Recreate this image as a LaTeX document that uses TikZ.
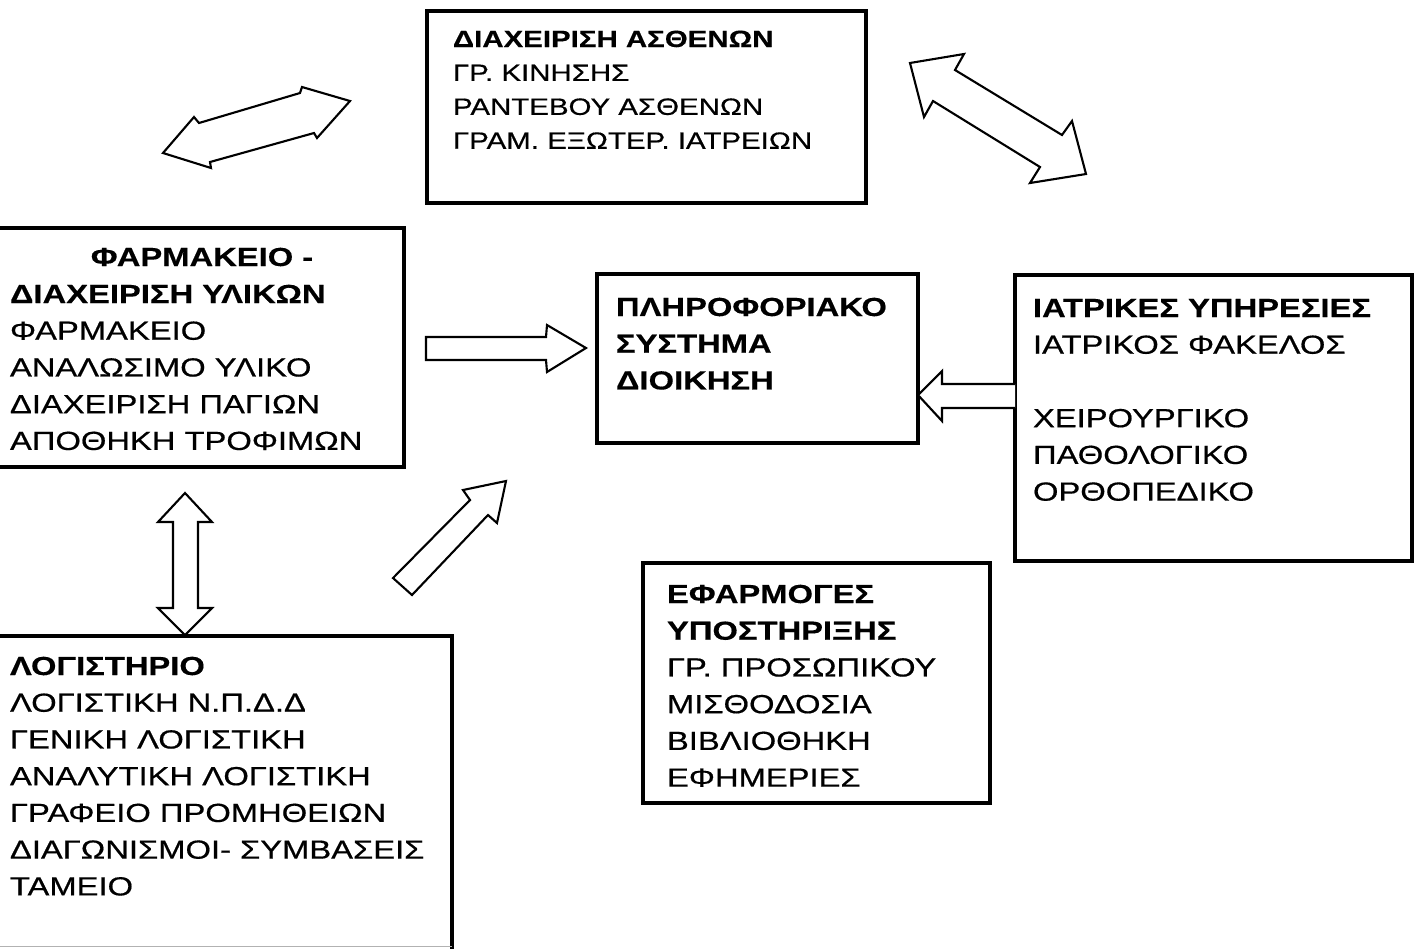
\documentclass[tikz,border=0pt]{standalone}
\usepackage{fontspec}
\usepackage{graphicx}
\setmainfont{Liberation Sans}[UprightFeatures={FakeBold=0.5}, BoldFeatures={FakeBold=0.3}]
\newcommand\widen[1]{\scalebox{1.25}[1]{#1}}
\newcommand\mainsize{\fontsize{7.45pt}{10.45pt}\selectfont}
\newcommand\smallsize{\fontsize{6.7pt}{9.65pt}\selectfont}
\tikzset{
  unitbox/.style={draw, line width=0.9pt, inner sep=0pt, outer sep=0pt},
  txt/.style={anchor=base west, inner sep=0pt, outer sep=0pt, align=left},
  blockarrow/.style={draw, line width=0.6pt, line join=miter, fill=white}
}
\begin{document}
\begin{tikzpicture}[x=0.1mm, y=-0.1mm]
\useasboundingbox (0,0) rectangle (1419,948);
\clip (0,0) rectangle (1419,948);

% boxes
\node[unitbox, minimum width=43.9mm, minimum height=19.2mm] (patients) at (646.5,107) {};
\node[unitbox, minimum width=41.4mm, minimum height=23.9mm] (pharmacy) at (197,347.5) {};
\node[unitbox, minimum width=32.1mm, minimum height=16.9mm] (info) at (757.5,358.5) {};
\node[unitbox, minimum width=39.7mm, minimum height=28.6mm] (medical) at (1213.5,418) {};
\node[unitbox, minimum width=34.7mm, minimum height=24.0mm] (support) at (816.5,683) {};
\node[unitbox, minimum width=46.2mm, minimum height=32.0mm] (accounts) at (221,796) {};
% faint lower edge of the accounting box
\draw[gray!60, line width=0.5pt] (0,946.5) -- (accounts.east |- 0,946.5);

% texts
\node[txt] (patientsT) at (453,47) {\smallsize\widen{\begin{tabular}[t]{@{}l@{}}
\textbf{ΔΙΑΧΕΙΡΙΣΗ ΑΣΘΕΝΩΝ}\\
ΓΡ. ΚΙΝΗΣΗΣ\\
ΡΑΝΤΕΒΟΥ ΑΣΘΕΝΩΝ\\
ΓΡΑΜ. ΕΞΩΤΕΡ. ΙΑΤΡΕΙΩΝ
\end{tabular}}};

\node[anchor=base, inner sep=0pt] (pharmacyH) at (202,266) {\mainsize\widen{\textbf{ΦΑΡΜΑΚΕΙΟ -}}};
\node[txt] (pharmacyT) at (10,303) {\mainsize\widen{\begin{tabular}[t]{@{}l@{}}
\textbf{ΔΙΑΧΕΙΡΙΣΗ ΥΛΙΚΩΝ}\\
ΦΑΡΜΑΚΕΙΟ\\
ΑΝΑΛΩΣΙΜΟ ΥΛΙΚΟ\\
ΔΙΑΧΕΙΡΙΣΗ ΠΑΓΙΩΝ\\
ΑΠΟΘΗΚΗ ΤΡΟΦΙΜΩΝ
\end{tabular}}};

\node[txt] (infoT) at (616,316) {\mainsize\widen{\begin{tabular}[t]{@{}l@{}}
\textbf{ΠΛΗΡΟΦΟΡΙΑΚΟ}\\
\textbf{ΣΥΣΤΗΜΑ}\\
\textbf{ΔΙΟΙΚΗΣΗ}
\end{tabular}}};

\node[txt] (medicalT) at (1033,317) {\mainsize\widen{\begin{tabular}[t]{@{}l@{}}
\textbf{ΙΑΤΡΙΚΕΣ ΥΠΗΡΕΣΙΕΣ}\\
ΙΑΤΡΙΚΟΣ ΦΑΚΕΛΟΣ\\
\\
ΧΕΙΡΟΥΡΓΙΚΟ\\
ΠΑΘΟΛΟΓΙΚΟ\\
ΟΡΘΟΠΕΔΙΚΟ
\end{tabular}}};

\node[txt] (supportT) at (667,603) {\mainsize\widen{\begin{tabular}[t]{@{}l@{}}
\textbf{ΕΦΑΡΜΟΓΕΣ}\\
\textbf{ΥΠΟΣΤΗΡΙΞΗΣ}\\
ΓΡ. ΠΡΟΣΩΠΙΚΟΥ\\
ΜΙΣΘΟΔΟΣΙΑ\\
ΒΙΒΛΙΟΘΗΚΗ\\
ΕΦΗΜΕΡΙΕΣ
\end{tabular}}};

\node[txt] (accountsT) at (10,675) {\mainsize\widen{\begin{tabular}[t]{@{}l@{}}
\textbf{ΛΟΓΙΣΤΗΡΙΟ}\\
ΛΟΓΙΣΤΙΚΗ Ν.Π.Δ.Δ\\
ΓΕΝΙΚΗ ΛΟΓΙΣΤΙΚΗ\\
ΑΝΑΛΥΤΙΚΗ ΛΟΓΙΣΤΙΚΗ\\
ΓΡΑΦΕΙΟ ΠΡΟΜΗΘΕΙΩΝ\\
ΔΙΑΓΩΝΙΣΜΟΙ- ΣΥΜΒΑΣΕΙΣ\\
ΤΑΜΕΙΟ
\end{tabular}}};

% block arrows
% pharmacy <-> patients
\draw[blockarrow] (163,153) -- (194,117) -- (199,123) -- (300,93) -- (302,87)
  -- (350,101) -- (317,138) -- (314,133) -- (210,162) -- (211,168) -- cycle;
% patients <-> medical services
\draw[blockarrow] (910,63) -- (964,54) -- (955,70) -- (1062,135) -- (1072,121)
  -- (1086,174) -- (1030,183) -- (1040,167) -- (933,101) -- (924,117) -- cycle;
% pharmacy -> information system
\draw[blockarrow] (426,337) -- (546,337) -- (547,325) -- (586,348) -- (547,372)
  -- (546,360) -- (426,360) -- cycle;
% medical services -> information system
\draw[blockarrow] (medical.west |- 0,384) -- (942,384) -- (942,371) -- (918,395)
  -- (942,421) -- (942,408) -- (medical.west |- 0,408);
% pharmacy <-> accounting
\draw[blockarrow] (185,493) -- (158,522) -- (173,522) -- (173,608) -- (158,608)
  -- (185,635) -- (212,608) -- (198,608) -- (198,522) -- (212,522) -- cycle;
% accounting -> information system
\draw[blockarrow] (393,578) -- (470,500) -- (463,490) -- (506,481) -- (497,523)
  -- (488,515) -- (412,595) -- cycle;
\end{tikzpicture}
\end{document}
